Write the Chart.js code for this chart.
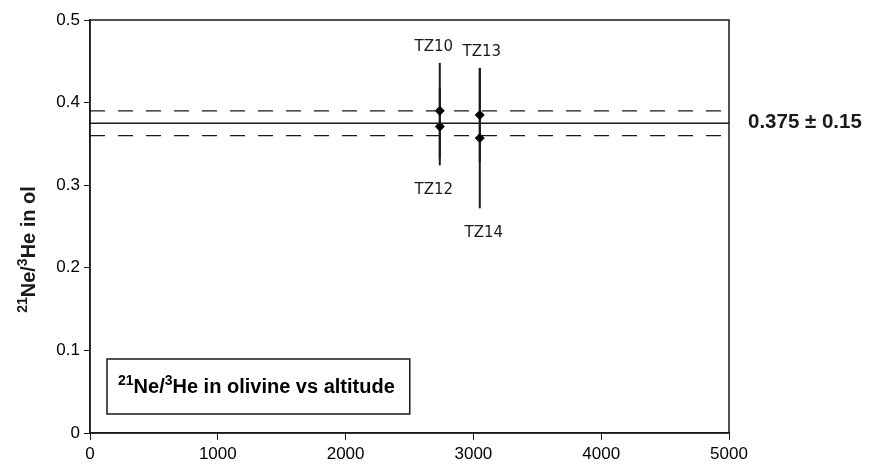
<!DOCTYPE html>
<html>
<head>
<meta charset="utf-8">
<script src="https://cdn.jsdelivr.net/npm/chart.js@4/dist/chart.umd.min.js"></script>
<style>
  body { margin: 0; background: #fff; }
  #wrap { width: 872px; height: 468px; }
</style>
</head>
<body>
<div id="wrap"><canvas id="myChart" width="872" height="468"></canvas></div>
<script>
// Data for chart
const sampleNames = ['TZ10', 'TZ12', 'TZ13', 'TZ14'];
const altitudes = [2737, 2737, 3050, 3050];
const ratios = [0.390, 0.371, 0.385, 0.357];
const ratioErrors = [0.058, 0.047, 0.057, 0.085];

// reference value and band
const refValue = 0.375;
const bandLow = 0.360;
const bandHigh = 0.390;
const refLabel = '0.375 \u00b1 0.15';

const xTickLabels = ['0', '1000', '2000', '3000', '4000', '5000'];
const yTickLabels = ['0', '0.1', '0.2', '0.3', '0.4', '0.5'];

// text pieces (sup = superscript)
const yTitleParts = [{ t: '21', sup: true }, { t: 'Ne/' }, { t: '3', sup: true }, { t: 'He in ol' }];
const boxTitleParts = [{ t: '21', sup: true }, { t: 'Ne/' }, { t: '3', sup: true }, { t: 'He in olivine vs altitude' }];

const FONT = "'Liberation Sans', Arial, sans-serif";
const INK = '#1a1a1a';

function hline(y) {
  return [{ x: 0, y: y }, { x: 5000, y: y }];
}

// text with superscripts, left aligned at x, baseline y
function richWidth(ctx, parts, size) {
  let w = 0;
  parts.forEach(p => {
    ctx.font = 'bold ' + (p.sup ? Math.round(size * 0.68) : size) + 'px ' + FONT;
    w += ctx.measureText(p.t).width;
  });
  return w;
}
function drawRich(ctx, parts, x, y, size) {
  ctx.textAlign = 'left';
  ctx.textBaseline = 'alphabetic';
  parts.forEach(p => {
    const s = p.sup ? Math.round(size * 0.68) : size;
    ctx.font = 'bold ' + s + 'px ' + FONT;
    ctx.fillText(p.t, x, p.sup ? y - size * 0.4 : y);
    x += ctx.measureText(p.t).width;
  });
}

const extras = {
  id: 'extras',
  beforeDatasetsDraw(chart) {
    const { ctx, scales: { x, y } } = chart;
    // error bars
    ctx.save();
    ctx.strokeStyle = INK;
    ctx.lineWidth = 2;
    ratios.forEach((v, i) => {
      const px = x.getPixelForValue(altitudes[i]);
      ctx.beginPath();
      ctx.moveTo(px, y.getPixelForValue(v + ratioErrors[i]));
      ctx.lineTo(px, y.getPixelForValue(v - ratioErrors[i]));
      ctx.stroke();
    });
    ctx.restore();
  },
  afterDraw(chart) {
    const { ctx, chartArea: a, scales: { x, y } } = chart;
    ctx.save();
    // frame
    ctx.strokeStyle = INK;
    ctx.lineWidth = 1.5;
    ctx.strokeRect(a.left, a.top, a.right - a.left, a.bottom - a.top);

    // sample labels
    ctx.fillStyle = INK;
    ctx.font = "15px 'DejaVu Sans', Verdana, sans-serif";
    ctx.textAlign = 'center';
    ctx.textBaseline = 'middle';
    const above = [true, false, true, false];
    const dx = [-6, -6, 2, 4];
    sampleNames.forEach((name, i) => {
      const px = x.getPixelForValue(altitudes[i]) + dx[i];
      const py = above[i]
        ? y.getPixelForValue(ratios[i] + ratioErrors[i]) - 15.5
        : y.getPixelForValue(ratios[i] - ratioErrors[i]) + 25;
      ctx.fillText(name, px, py);
    });

    // reference value label on the right
    ctx.font = 'bold 20.5px ' + FONT;
    ctx.textAlign = 'left';
    ctx.fillText(refLabel, a.right + 19, y.getPixelForValue(refValue) - 1);

    // y axis title (rotated)
    ctx.save();
    const tw = richWidth(ctx, yTitleParts, 20);
    ctx.translate(35, (a.top + a.bottom) / 2 + 23);
    ctx.rotate(-Math.PI / 2);
    drawRich(ctx, yTitleParts, -tw / 2, 0, 20);
    ctx.restore();

    // boxed title
    const bw = richWidth(ctx, boxTitleParts, 20);
    const bx = a.left + 17, by = a.bottom - 74, bh = 55;
    ctx.fillStyle = '#fff';
    ctx.fillRect(bx, by, bw + 26, bh);
    ctx.strokeStyle = INK;
    ctx.lineWidth = 1.5;
    ctx.strokeRect(bx, by, bw + 26, bh);
    ctx.fillStyle = '#000';
    drawRich(ctx, boxTitleParts, bx + 11, by + 34, 20);
    ctx.restore();
  }
};

const chartData = {
  datasets: [
    {
      type: 'line',
      data: hline(refValue),
      borderColor: INK,
      borderWidth: 1.5,
      pointRadius: 0
    },
    {
      type: 'line',
      data: hline(bandHigh),
      borderColor: INK,
      borderWidth: 1.2,
      borderDash: [15, 13],
      pointRadius: 0
    },
    {
      type: 'line',
      data: hline(bandLow),
      borderColor: INK,
      borderWidth: 1.2,
      borderDash: [15, 13],
      pointRadius: 0
    },
    {
      type: 'scatter',
      data: altitudes.map((a, i) => ({ x: a, y: ratios[i] })),
      pointStyle: 'rectRot',
      pointRadius: 4.5,
      backgroundColor: '#000',
      borderColor: '#000',
      borderWidth: 1
    }
  ]
};

const chartConfig = {
  type: 'scatter',
  data: chartData,
  options: {
    responsive: false,
    animation: false,
    layout: { padding: { top: 20, right: 143, left: 0, bottom: 0 } },
    plugins: {
      legend: { display: false },
      tooltip: { enabled: false }
    },
    scales: {
      x: {
        type: 'linear',
        min: 0,
        max: 5000,
        afterFit: s => { s.height = 35; },
        afterBuildTicks: s => { s.ticks = xTickLabels.map(v => ({ value: Number(v) })); },
        ticks: {
          callback: (v, i) => xTickLabels[i],
          color: '#000',
          font: { family: FONT, size: 17 },
          padding: 4,
          maxRotation: 0
        },
        grid: { drawOnChartArea: false, drawTicks: true, tickLength: 7, color: INK },
        border: { color: INK, width: 1.5 }
      },
      y: {
        type: 'linear',
        min: 0,
        max: 0.5,
        afterFit: s => { s.width = 90; },
        afterBuildTicks: s => { s.ticks = yTickLabels.map(v => ({ value: Number(v) })); },
        ticks: {
          callback: (v, i) => yTickLabels[i],
          color: '#000',
          font: { family: FONT, size: 17 },
          padding: 4
        },
        grid: { drawOnChartArea: false, drawTicks: true, tickLength: 6, color: INK },
        border: { color: INK, width: 1.5 }
      }
    }
  },
  plugins: [extras]
};

// Initialize chart
const ctx = document.getElementById('myChart').getContext('2d');
const myChart = new Chart(ctx, chartConfig);
</script>
</body>
</html>
